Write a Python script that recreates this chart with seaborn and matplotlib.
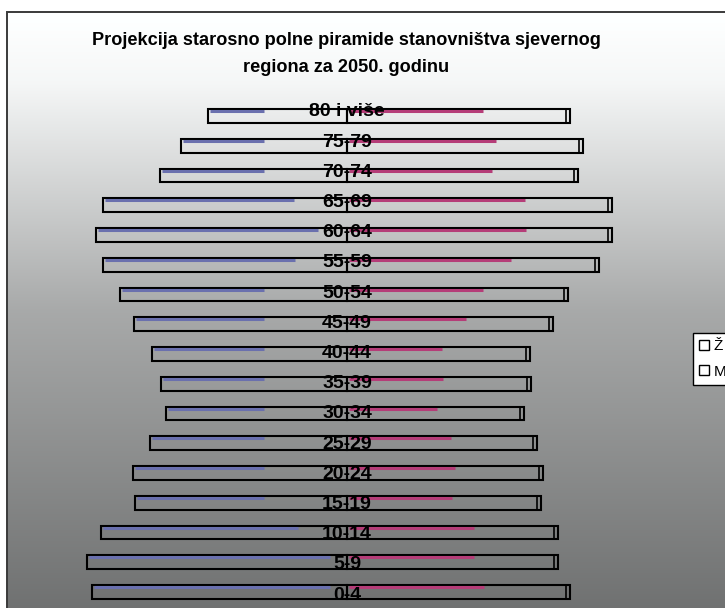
import numpy as np
import pandas as pd
import matplotlib
matplotlib.use("Agg")
import matplotlib.pyplot as plt
import seaborn as sns
from matplotlib.patches import Rectangle
from matplotlib.lines import Line2D

# ---------------- data (top to bottom) ----------------
age_groups = ['80 i više', '75-79', '70-74', '65-69', '60-64', '55-59', '50-54',
              '45-49', '40-44', '35-39', '30-34', '25-29', '20-24', '15-19',
              '10-14', '5-9', '0-4']
male = [2.78, 3.32, 3.74, 4.88, 5.02, 4.88, 4.54, 4.26, 3.90, 3.72, 3.62, 3.94,
        4.28, 4.24, 4.92, 5.20, 5.10]
female = [4.46, 4.72, 4.62, 5.30, 5.30, 5.04, 4.42, 4.12, 3.66, 3.68, 3.54, 3.80,
          3.92, 3.88, 4.22, 4.22, 4.46]
# gradient-streak extents seen inside the bars
male_streak_end = [1.66, 1.66, 1.66, 1.06, 0.58, 1.04, 1.66, 1.66, 1.66, 1.66,
                   1.66, 1.66, 1.66, 1.66, 0.98, 0.34, 0.34]
female_streak_end = [2.72, 2.98, 2.90, 3.56, 3.58, 3.28, 2.72, 2.38, 1.90, 1.92,
                     1.80, 2.08, 2.16, 2.10, 2.54, 2.54, 2.74]
legend_labels = ['Ž', 'M']
title = 'Projekcija starosno polne piramide stanovništva sjevernog\nregiona za 2050. godinu'

df = pd.DataFrame({'age': age_groups,
                   'male_neg': [-v for v in male],
                   'female': female})

W, H = 725, 608
fig = plt.figure(figsize=(W / 100, H / 100), dpi=100)
fig.patch.set_facecolor('white')

# ---------------- gradient chart-area background ----------------
frame_left = 7 / W
frame_top = 1 - 12 / H
bg = fig.add_axes([frame_left, 0, 1 - frame_left, frame_top], zorder=0)
stops_y = np.array([0.0, 0.12, 0.5, 1.0])
stops_v = np.array([255, 245, 168, 112])
yy = np.linspace(0, 1, 400)
vals = np.interp(yy, stops_y, stops_v) / 255.0
grad = np.stack([vals, np.clip(vals + 0.006, 0, 1), np.clip(vals + 0.006, 0, 1)],
                axis=-1)[:, None, :]
grad = np.repeat(grad, 2, axis=1)
bg.imshow(grad, aspect='auto', extent=[0, 1, 0, 1], origin='upper')
bg.set_axis_off()
fig.add_artist(Rectangle((frame_left, -0.1), 2, frame_top + 0.1,
                         transform=fig.transFigure, fill=False,
                         edgecolor='#3a3a3a', linewidth=1.4, zorder=1))

# ---------------- main axes ----------------
cx = 347
scale = 50.0
ax_l, ax_r = 20, 680
row = 29.75
ax_top = 116 - 0.5 * row
ax_bot = 592 + 0.5 * row
ax = fig.add_axes([ax_l / W, 1 - ax_bot / H, (ax_r - ax_l) / W, (ax_bot - ax_top) / H],
                  zorder=2)
ax.patch.set_alpha(0)

bar_h = 0.47
sns.barplot(data=df, x='male_neg', y='age', order=age_groups, orient='h',
            color='none', edgecolor='black', linewidth=1.5, width=bar_h,
            ax=ax, errorbar=None)
sns.barplot(data=df, x='female', y='age', order=age_groups, orient='h',
            color='none', edgecolor='black', linewidth=1.5, width=bar_h,
            ax=ax, errorbar=None)
for p in ax.patches:
    p.set_facecolor('none')

ypos = np.arange(len(age_groups))
# colored streaks
for i in ypos:
    ytop = i - bar_h / 2 + 0.07
    ax.plot([-male[i] + 0.03, -male_streak_end[i]], [ytop, ytop],
            color='#6a70ae', linewidth=2.2, solid_capstyle='butt', zorder=3)
    ax.plot([0.03, female_streak_end[i]], [ytop, ytop],
            color='#b53d78', linewidth=2.2, solid_capstyle='butt', zorder=3)
# small depth face at right end
ax.barh(ypos, [0.08] * len(ypos), left=[f - 0.08 for f in female], height=bar_h,
        color='none', edgecolor='black', linewidth=1.2, zorder=4)

# category labels centered (label rows are spaced slightly wider than bars)
for i, lab in enumerate(age_groups):
    y_px = 112 + i * 30.19
    ax.text(0, (y_px - 116) / row, lab, ha='center', va='center', fontsize=14,
            fontweight='bold', family='Liberation Sans', color='black', zorder=5)

ax.set_xlim((ax_l - cx) / scale, (ax_r - cx) / scale)
ax.set_ylim(len(age_groups) - 0.5, -0.5)
ax.set_axis_off()

# ---------------- title ----------------
fig.text(346 / W, 1 - 54 / H, title, ha='center', va='center', fontsize=13.1,
         fontweight='bold', family='Liberation Sans', linespacing=1.78)

# ---------------- legend ----------------
handles = [Line2D([0], [0], marker='s', linestyle='none', markersize=6.5,
                  markerfacecolor='white', markeredgecolor='black',
                  markeredgewidth=1.0) for _ in legend_labels]
leg = fig.legend(handles, legend_labels, loc='upper left',
                 bbox_to_anchor=(693 / W, 1 - 333 / H), frameon=True,
                 fancybox=False, framealpha=1, edgecolor='black',
                 prop={'family': 'Liberation Sans', 'size': 11},
                 handlelength=0.6, handletextpad=0.35, labelspacing=0.75,
                 borderpad=0.4, borderaxespad=0)
leg.get_frame().set_linewidth(1.0)
leg.set_zorder(6)

fig.savefig('out.png', dpi=100)
